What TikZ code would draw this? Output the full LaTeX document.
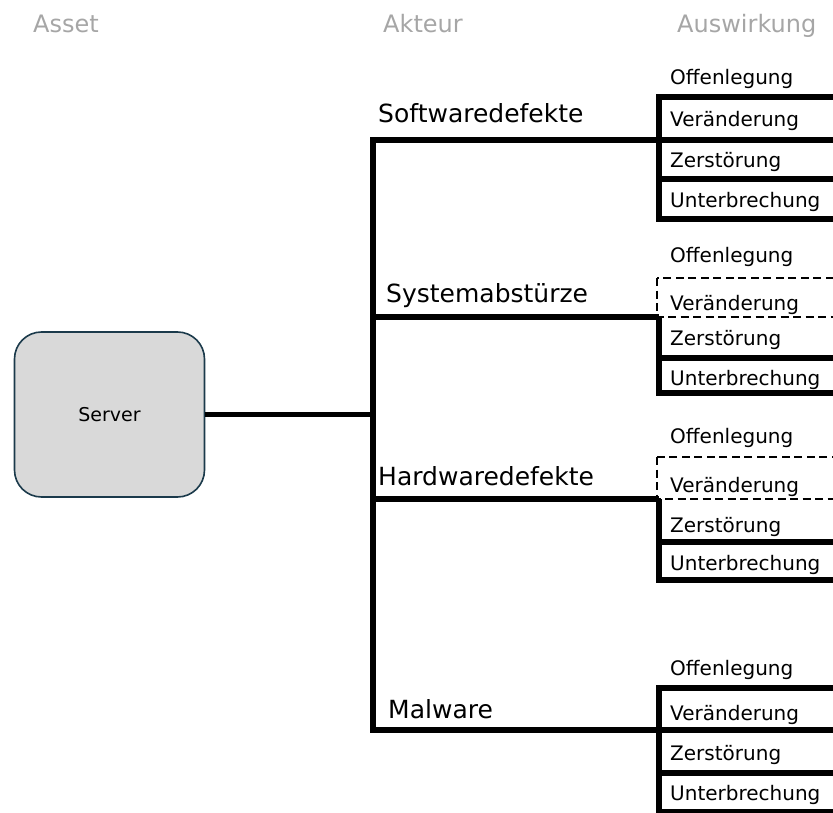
\documentclass[tikz,border=0pt]{standalone}
\usepackage{fontspec}
\setmainfont{DejaVu Sans}
\definecolor{hdrgray}{HTML}{A6A6A6}
\definecolor{srvfill}{HTML}{D9D9D9}
\definecolor{srvborder}{HTML}{1B3A4B}
\begin{document}
\begin{tikzpicture}[x=1pt,y=-1pt,
  thk/.style={line width=5.5pt, line join=miter},
  dsh/.style={line width=1.4pt, dash pattern=on 8pt off 4.5pt},
  hdr/.style={text=hdrgray, font=\fontsize{24}{28}\selectfont, anchor=base west, inner sep=0pt},
  actor/.style={font=\fontsize{25}{30}\selectfont, anchor=base west, inner sep=0pt},
  imp/.style={font=\fontsize{20}{24}\selectfont, anchor=base west, inner sep=0pt},
  server/.style={draw=srvborder, fill=srvfill, line width=1.6pt, rounded corners=27pt,
    minimum width=190pt, minimum height=165pt, font=\fontsize{19}{23}\selectfont}
]
\useasboundingbox (0,0) rectangle (833,813);
\clip (0,0) rectangle (833,813);

% headers
\node[hdr] (hAsset) at (33,33) {Asset};
\node[hdr] (hAkteur) at (383,33) {Akteur};
\node[hdr] (hAusw) at (677,33) {Auswirkung};

% server
\node[server] (server) at (109.5,414.5) {Server};

% trunk coordinates
\coordinate (t1) at (373,140);
\coordinate (t2) at (373,317);
\coordinate (t3) at (373,499);
\coordinate (t4) at (373,730);
\coordinate (ts) at (373,414.5);
\coordinate (g1) at (659,140);
\coordinate (g2) at (659,317);
\coordinate (g3) at (659,499);
\coordinate (g4) at (659,730);

\draw[thk] (g1) -- (t1) -- (t4) -- (g4);
\draw[thk] (server.east) -- (ts);
\draw[thk] (t2) -- (g2);
\draw[thk] (t3) -- (g3);

% actor labels
\node[actor] (a1) at (378,123) {Softwaredefekte};
\node[actor] (a2) at (386,302) {Systemabstürze};
\node[actor] (a3) at (378,485) {Hardwaredefekte};
\node[actor] (a4) at (388,718) {Malware};

% group 1
\draw[thk] (659,97) rectangle (850,219);
\draw[thk] (g1) -- (850,140);
\draw[thk] (659,179) -- (850,179);
\node[imp] (o1) at (670,85) {Offenlegung};
\node[imp] (v1) at (670,127) {Veränderung};
\node[imp] (z1) at (670,168) {Zerstörung};
\node[imp] (u1) at (670,208) {Unterbrechung};

% group 2
\draw[dsh] (657,278) rectangle (850,317);
\draw[thk] (g2) -- (659,393) -- (850,393);
\draw[thk] (659,358) -- (850,358);
\node[imp] (o2) at (670,262) {Offenlegung};
\node[imp] (v2) at (670,310) {Veränderung};
\node[imp] (z2) at (670,345) {Zerstörung};
\node[imp] (u2) at (670,385) {Unterbrechung};

% group 3
\draw[dsh] (657,457) rectangle (850,499);
\draw[thk] (g3) -- (659,580) -- (850,580);
\draw[thk] (659,542) -- (850,542);
\node[imp] (o3) at (670,443) {Offenlegung};
\node[imp] (v3) at (670,492) {Veränderung};
\node[imp] (z3) at (670,532) {Zerstörung};
\node[imp] (u3) at (670,570) {Unterbrechung};

% group 4
\draw[thk] (659,688) rectangle (850,812);
\draw[thk] (g4) -- (850,730);
\draw[thk] (659,773) -- (850,773);
\node[imp] (o4) at (670,675) {Offenlegung};
\node[imp] (v4) at (670,720) {Veränderung};
\node[imp] (z4) at (670,760) {Zerstörung};
\node[imp] (u4) at (670,800) {Unterbrechung};
\end{tikzpicture}
\end{document}
